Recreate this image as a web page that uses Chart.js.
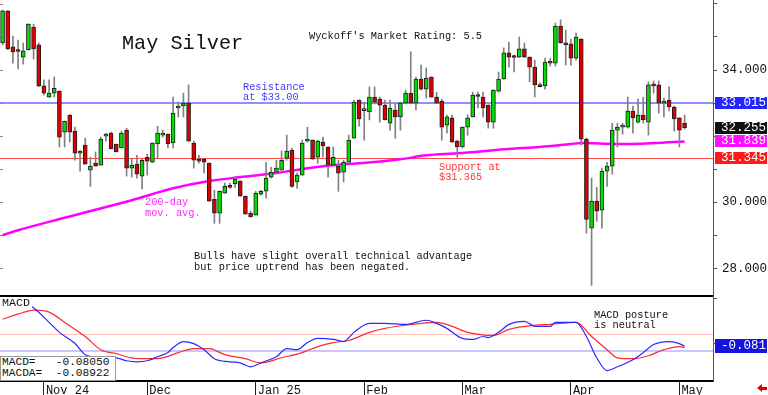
<!DOCTYPE html>
<html lang="en">
<head>
<meta charset="UTF-8">
<title>May Silver</title>
<script src="https://cdn.jsdelivr.net/npm/chart.js"></script>
<style>
  body { margin: 0; background: #fff; }
  #wrap { position: relative; width: 768px; height: 395px; overflow: hidden;
          font-family: 'Liberation Mono', 'DejaVu Sans Mono', monospace; }
  #wrap canvas { position: absolute; left: 0; top: 0; }
  .note { position: absolute; white-space: pre; font-size: 10.3px; line-height: 10px; color: #111; }
  .tag { position: absolute; left: 715px; width: 52px; height: 12px; color: #fff; font-size: 12.5px;
         line-height: 12px; text-align: right; padding-right: 1px; box-sizing: border-box; }
  #title { left: 122px; top: 33.8px; font-size: 20.2px; line-height: 20.2px; }
  #rating { left: 309px; top: 31.2px; line-height: 10.3px; }
  #resist { left: 243px; top: 81.5px; color: #3d3dff; }
  #supp { left: 439px; top: 161.7px; color: #ff3333; }
  #malbl { left: 145px; top: 197px; color: #ff2aff; line-height: 10.7px; }
  #bulls { left: 194px; top: 251.4px; line-height: 10.7px; }
  #posture { left: 594px; top: 309.6px; line-height: 10.3px; }
  #macdlbl { left: 0; top: 297px; width: 32px; height: 13px; background: #fff; font-size: 11.7px;
             line-height: 11.7px; padding-left: 2px; box-sizing: border-box; padding-top: 1px; }
  #macdbox { left: 0; top: 356px; width: 116px; height: 25px; background: #fff; border: 1px solid #9a9a9a;
             box-sizing: border-box; font-size: 11.2px; line-height: 11px; padding-left: 1px; }
  #arrow { position: absolute; left: 757px; top: 384px; width: 0; height: 0;
           border-top: 4px solid transparent; border-bottom: 4px solid transparent; border-right: 5px solid #e00000; }
  #arrow::after { content: ''; position: absolute; left: 5px; top: -1.5px; width: 5px; height: 3px; background: #e00000; }
</style>
</head>
<body>
<div id="wrap">
  <canvas id="chart" width="768" height="395"></canvas>
  <div class="note" id="title">May Silver</div>
  <div class="note" id="rating">Wyckoff's Market Rating: 5.5</div>
  <div class="note" id="resist">Resistance
at $33.00</div>
  <div class="note" id="supp">Support at
$31.365</div>
  <div class="note" id="malbl">200-day
mov. avg.</div>
  <div class="note" id="bulls">Bulls have slight overall technical advantage
but price uptrend has been negated.</div>
  <div class="note" id="posture">MACD posture
is neutral</div>
  <div class="note" id="macdlbl">MACD</div>
  <div class="note" id="macdbox">MACD=   -0.08050
MACDA=  -0.08922</div>
  <div id="arrow"></div>
</div>

<script>
// month ticks on the time axis (index of first trading day of the month)
const monthLabels = ['Nov 24', 'Dec', 'Jan 25', 'Feb', 'Mar', 'Apr', 'May'];
const monthStart = [8, 28, 49, 70, 89, 110, 131];
const emptySlots = 5;

// daily OHLC, May silver, Oct 22 2024 .. May 2 2025
const open = [
  34.82, 35.79, 34.70, 34.61, 34.39, 34.61, 35.30, 34.76, 33.52, 33.18,
  33.30, 33.36, 32.12, 32.64, 32.15, 31.48, 31.73, 30.97, 31.18, 31.12,
  32.00, 32.09, 31.76, 31.64, 32.18, 31.03, 31.15, 30.79, 31.36, 31.21,
  31.76, 32.03, 32.06, 31.79, 32.85, 32.91, 33.00, 31.79, 31.30, 31.30,
  31.18, 30.09, 29.67, 30.27, 30.48, 30.55, 30.64, 30.18, 29.67, 29.61,
  30.24, 30.33, 30.76, 30.91, 30.97, 31.33, 31.58, 30.61, 30.82, 31.85,
  31.88, 31.36, 31.82, 31.67, 31.12, 31.09, 30.91, 31.21, 31.94, 33.09,
  32.77, 32.73, 33.18, 33.12, 32.94, 32.39, 32.79, 32.58, 33.00, 33.30,
  33.00, 33.73, 33.42, 33.79, 33.18, 33.06, 32.33, 32.55, 31.85, 31.67,
  32.27, 32.58, 33.23, 33.18, 32.94, 32.42, 33.36, 33.73, 34.52, 34.39,
  34.39, 34.64, 34.39, 34.09, 33.53, 33.52, 34.27, 34.21, 35.33, 34.82,
  34.79, 34.36, 34.94, 31.91, 29.21, 30.03, 29.76, 30.94, 31.09, 32.18,
  32.27, 32.27, 32.76, 32.42, 32.64, 32.42, 33.55, 33.55, 33.00, 33.09,
  32.88, 32.55, 32.39
];
const high = [
  35.82, 35.80, 35.03, 34.91, 34.82, 35.40, 35.39, 34.82, 33.70, 33.70,
  33.79, 33.37, 32.46, 32.65, 32.27, 31.56, 31.94, 31.36, 31.52, 31.97,
  32.09, 32.12, 31.76, 32.15, 32.24, 31.30, 31.42, 31.30, 31.45, 31.80,
  32.30, 32.18, 32.07, 33.18, 33.03, 33.30, 33.55, 31.85, 31.42, 31.31,
  31.19, 30.36, 30.34, 30.58, 30.58, 30.76, 30.65, 30.19, 29.73, 30.33,
  30.36, 31.21, 31.06, 31.27, 31.55, 32.03, 31.64, 30.88, 31.88, 32.27,
  31.89, 31.88, 31.97, 31.68, 31.67, 31.27, 31.27, 32.03, 33.09, 33.10,
  33.03, 33.49, 33.49, 33.18, 33.09, 33.09, 33.00, 33.03, 33.39, 34.55,
  33.79, 34.15, 34.06, 33.80, 33.33, 33.12, 32.64, 32.64, 31.88, 32.28,
  32.64, 33.33, 33.33, 33.33, 32.95, 33.40, 33.94, 34.67, 34.85, 34.45,
  35.00, 34.82, 34.40, 34.30, 33.61, 34.36, 34.36, 35.42, 35.52, 35.21,
  34.94, 35.12, 34.95, 31.94, 30.73, 30.45, 31.03, 31.21, 32.39, 32.39,
  32.39, 33.18, 32.91, 33.12, 33.18, 33.64, 33.67, 33.67, 33.15, 33.49,
  32.91, 32.56, 32.64
];
const low = [
  34.76, 34.61, 34.21, 34.03, 34.18, 34.60, 34.33, 33.49, 33.24, 33.18,
  33.18, 31.67, 31.67, 31.82, 31.27, 30.94, 31.15, 30.48, 31.09, 31.12,
  31.85, 31.61, 31.52, 31.64, 30.79, 30.76, 30.73, 30.39, 30.82, 31.20,
  31.33, 31.97, 31.64, 31.64, 32.58, 32.58, 31.85, 31.03, 31.18, 30.88,
  30.03, 29.36, 29.36, 30.27, 30.42, 30.45, 30.18, 29.64, 29.55, 29.61,
  30.21, 30.12, 30.73, 30.88, 30.97, 31.27, 30.45, 30.42, 30.82, 31.82,
  31.30, 31.18, 31.36, 30.76, 31.12, 30.33, 30.61, 31.21, 31.94, 32.30,
  31.88, 32.49, 32.97, 32.42, 32.49, 32.18, 31.94, 32.18, 33.00, 33.00,
  32.79, 33.39, 33.15, 33.18, 33.00, 31.88, 32.09, 31.82, 31.36, 31.64,
  32.03, 32.58, 32.85, 32.58, 32.24, 32.24, 33.33, 33.72, 34.09, 33.94,
  34.38, 34.38, 33.64, 33.18, 33.49, 33.42, 34.12, 34.12, 34.81, 34.15,
  34.15, 34.30, 31.73, 29.06, 27.48, 29.42, 29.21, 30.48, 30.85, 31.67,
  32.06, 32.24, 32.09, 32.39, 32.39, 32.03, 33.30, 32.70, 32.58, 32.76,
  32.15, 31.67, 32.21
];
const close = [
  35.79, 34.64, 34.55, 34.56, 34.58, 35.39, 34.64, 33.52, 33.30, 33.30,
  33.45, 31.97, 32.45, 32.12, 31.48, 31.55, 31.15, 31.09, 31.09, 31.91,
  32.03, 31.61, 31.52, 32.09, 31.03, 31.12, 30.85, 31.27, 31.24, 31.79,
  32.09, 32.09, 31.76, 32.70, 32.88, 33.00, 31.85, 31.27, 31.24, 31.21,
  30.03, 29.67, 30.33, 30.48, 30.45, 30.70, 30.18, 29.64, 29.55, 30.27,
  30.33, 30.73, 30.91, 31.03, 31.27, 31.55, 30.48, 30.82, 31.79, 31.88,
  31.30, 31.85, 31.70, 31.12, 31.36, 30.88, 31.21, 31.88, 33.03, 32.52,
  32.80, 33.18, 33.03, 32.94, 32.49, 32.85, 32.58, 33.00, 33.30, 33.00,
  33.73, 33.42, 33.76, 33.18, 33.00, 32.27, 32.58, 31.82, 31.67, 32.27,
  32.55, 33.24, 33.20, 32.85, 32.42, 33.39, 33.73, 34.52, 34.39, 34.38,
  34.64, 34.39, 34.09, 33.55, 33.50, 34.24, 34.21, 35.33, 34.82, 34.76,
  34.36, 35.00, 31.91, 29.48, 30.03, 29.73, 30.94, 31.09, 32.18, 32.27,
  32.30, 32.76, 32.55, 32.64, 32.49, 33.55, 33.52, 33.00, 33.06, 32.88,
  32.52, 32.18, 32.255
];

// 200-day moving average, read at these bar indexes
const maIdx = [0, 3, 12, 25, 33, 40, 46, 53, 59, 66, 69, 77, 82, 88, 98, 104, 110, 112, 119, 126, 132];
const maVal = [29.00, 29.15, 29.53, 30.06, 30.42, 30.64, 30.76, 30.88, 31.03, 31.15, 31.18,
               31.30, 31.42, 31.48, 31.61, 31.67, 31.76, 31.79, 31.76, 31.79, 31.839];

// MACD and its signal line (MACDA), read at these bar indexes
const macdIdx = [0, 2, 4, 6, 9, 11, 14, 16, 19, 22, 24, 26, 28, 30, 32, 33, 35, 37, 39, 41,
                 44, 46, 48, 50, 53, 55, 57, 59, 61, 64, 66, 68, 71, 74, 78, 82, 84, 86, 89, 91,
                 93, 94, 96, 98, 101, 103, 106, 107, 109, 111, 113, 115, 117, 119, 122, 124, 126, 129, 131, 132];
const macdVal = [0.24, 0.25, 0.22, 0.18, 0.082, 0.014, -0.06, -0.137, -0.155, -0.158,
                 -0.178, -0.185, -0.178, -0.151, -0.123, -0.089, -0.048, -0.062, -0.103, -0.164,
                 -0.185, -0.192, -0.219, -0.192, -0.151, -0.096, -0.103, -0.055, -0.027, -0.034,
                 -0.048, 0.014, 0.075, 0.075, 0.068, 0.096, 0.075, 0.041, -0.027, -0.034,
                 -0.014, -0.021, 0.014, 0.068, 0.089, 0.055, 0.055, 0.082, 0.082, 0.082,
                 -0.014, -0.158, -0.245, -0.219, -0.171, -0.123, -0.068, -0.048, -0.062, -0.0805];
const sigIdx = [0, 3, 6, 9, 12, 16, 19, 22, 25, 28, 31, 34, 37, 40, 43, 47, 50, 54, 58, 61,
                64, 67, 71, 74, 78, 84, 87, 90, 95, 98, 103, 106, 111, 114, 117, 119, 122, 125, 128, 131, 132];
const sigVal = [0.103, 0.137, 0.164, 0.151, 0.082, -0.014, -0.103, -0.130, -0.158, -0.164,
                -0.158, -0.123, -0.096, -0.096, -0.137, -0.164, -0.192, -0.158, -0.123, -0.082,
                -0.055, -0.041, 0.014, 0.041, 0.062, 0.082, 0.055, 0.014, -0.007, 0.034,
                0.062, 0.068, 0.082, -0.014, -0.103, -0.158, -0.164, -0.144, -0.103, -0.082, -0.0892];

// levels
const resistance = 33.015;
const support = 31.345;
const lastPrice = 32.255;
const maLast = 31.839;
const macdLast = -0.081;
const macdUpperRef = 0;
const macdLowerRef = -0.114;

// axis ticks
const priceTicks = [28, 29, 30, 31, 32, 33, 34, 35, 36];
const priceLabeled = [28, 30, 34];
const macdTicks = [0.24, 0.09, -0.06, -0.21];

const green = '#00dd00', red = '#dd0000';
const mono = "'Liberation Mono', 'DejaVu Sans Mono', monospace";

const labels = [];
for (let i = 0; i < close.length + emptySlots; i++) labels.push(i);
const pts = (idx, val) => idx.map((x, k) => ({ x: x, y: val[k] }));

function hline(ctx, x0, x1, y, color, w) {
    ctx.beginPath();
    ctx.strokeStyle = color;
    ctx.lineWidth = w;
    ctx.moveTo(x0, y);
    ctx.lineTo(x1, y);
    ctx.stroke();
}

// no extra room around the axes: the panels fill the canvas edge to edge
function fitV(s) {
    s.width = 55;
    s.paddingTop = 0;
    s.paddingBottom = 0;
}
function fitH(s) {
    s.height = 14;
    s.paddingLeft = 0;
    s.paddingRight = 0;
}

const decor = {
    id: 'decor',
    beforeDatasetsDraw(chart) {
        const { ctx, chartArea: a, scales: { y, m } } = chart;
        ctx.save();
        hline(ctx, a.left, a.right, Math.round(y.getPixelForValue(resistance)), '#8f8fff', 2);
        hline(ctx, a.left, a.right, Math.round(y.getPixelForValue(support)) + 0.5, '#ff4848', 1);
        hline(ctx, a.left, a.right, Math.round(m.getPixelForValue(macdUpperRef)) + 0.5, '#ffc0c0', 1);
        hline(ctx, a.left, a.right, Math.round(m.getPixelForValue(macdLowerRef)), '#c8c8ff', 2);
        // short ticks on the left edge
        priceTicks.forEach(v => {
            const py = Math.round(y.getPixelForValue(v)) + 0.5;
            hline(ctx, 0, 3, py, '#888', 1);
        });
        ctx.restore();
    },
    afterDatasetsDraw(chart) {
        const { ctx, chartArea: a, scales: { y } } = chart;
        ctx.save();
        ctx.fillStyle = '#000';
        ctx.fillRect(a.left, Math.round(y.bottom) - 1, a.right - a.left, 2);
        ctx.restore();
    }
};

const chart = new Chart(document.getElementById('chart'), {
    data: {
        labels: labels,
        datasets: [
            {
                type: 'bar',
                label: 'body',
                data: open.map((o, i) => [o, close[i]]),
                backgroundColor: close.map((c, i) => c >= open[i] ? green : red),
                borderColor: '#1e1e1e',
                borderWidth: 1,
                borderSkipped: false,
                barThickness: 4,
                minBarLength: 2,
                grouped: false,
                yAxisID: 'y',
                order: 1
            },
            {
                type: 'bar',
                label: 'range',
                data: low.map((l, i) => [l, high[i]]),
                backgroundColor: '#808080',
                barThickness: 1,
                grouped: false,
                yAxisID: 'y',
                order: 2
            },
            {
                type: 'line',
                label: '200-day',
                data: pts(maIdx, maVal),
                borderColor: '#ff00ff',
                borderWidth: 2.5,
                pointRadius: 0,
                cubicInterpolationMode: 'monotone',
                yAxisID: 'y',
                order: 3
            },
            {
                type: 'line',
                label: 'MACD',
                data: pts(macdIdx, macdVal),
                borderColor: '#2a2aff',
                borderWidth: 1.2,
                pointRadius: 0,
                cubicInterpolationMode: 'monotone',
                yAxisID: 'm',
                order: 0
            },
            {
                type: 'line',
                label: 'MACDA',
                data: pts(sigIdx, sigVal),
                borderColor: '#ff2a2a',
                borderWidth: 1.2,
                pointRadius: 0,
                cubicInterpolationMode: 'monotone',
                yAxisID: 'm',
                order: 0
            }
        ]
    },
    options: {
        responsive: false,
        animation: false,
        events: [],
        layout: { padding: 0, autoPadding: false },
        plugins: { legend: { display: false }, tooltip: { enabled: false } },
        scales: {
            x: {
                type: 'category',
                offset: true,
                grid: {
                    offset: false,
                    drawOnChartArea: false,
                    tickLength: 14,
                    color: c => monthStart.includes(c.index) ? '#222' : 'rgba(0,0,0,0)'
                },
                border: { display: true, color: '#000', width: 2 },
                ticks: {
                    autoSkip: false,
                    maxRotation: 0,
                    minRotation: 0,
                    align: 'start',
                    labelOffset: 2,
                    padding: -11,
                    color: '#111',
                    font: { family: mono, size: 12 },
                    callback: v => {
                        const k = monthStart.indexOf(v);
                        return k < 0 ? '' : monthLabels[k];
                    }
                },
                afterFit: fitH
            },
            y: {
                type: 'linear',
                position: 'right',
                stack: 'panels',
                stackWeight: 296,
                min: 27.16,
                max: 36.12,
                grid: { drawOnChartArea: false, tickLength: 4, color: '#555' },
                border: { color: '#555' },
                ticks: {
                    padding: 5,
                    color: '#111',
                    font: { family: mono, size: 12.5 },
                    callback: v => priceLabeled.includes(v) ? v.toFixed(3) : ''
                },
                afterBuildTicks: s => { s.ticks = priceTicks.map(v => ({ value: v })); },
                afterFit: fitV
            },
            m: {
                type: 'linear',
                position: 'right',
                stack: 'panels',
                stackWeight: 85,
                min: -0.315,
                max: 0.26,
                grid: { drawOnChartArea: false, tickLength: 4, color: '#555' },
                border: { color: '#555' },
                ticks: { callback: () => '' },
                afterBuildTicks: s => { s.ticks = macdTicks.map(v => ({ value: v })); },
                afterFit: fitV
            }
        }
    },
    plugins: [decor]
});

// value tags on the right axis
const wrap = document.getElementById('wrap');
const tags = [
    { scale: 'y', value: resistance, text: resistance.toFixed(3), bg: '#2424ff', h: 12 },
    { scale: 'y', value: lastPrice, text: lastPrice.toFixed(3), bg: '#111', h: 12 },
    { scale: 'y', value: maLast, text: maLast.toFixed(3), bg: '#ff10ff', h: 12 },
    { scale: 'y', value: support, text: support.toFixed(3), bg: '#ff1a1a', h: 12 },
    { scale: 'm', value: macdLast, text: macdLast.toFixed(3), bg: '#1414dd', h: 14 }
];
tags.forEach(t => {
    const d = document.createElement('div');
    d.className = 'tag';
    d.textContent = t.text;
    d.style.background = t.bg;
    d.style.height = t.h + 'px';
    d.style.lineHeight = t.h + 'px';
    d.style.top = (chart.scales[t.scale].getPixelForValue(t.value) - t.h / 2) + 'px';
    wrap.appendChild(d);
});
</script>
</body>
</html>
